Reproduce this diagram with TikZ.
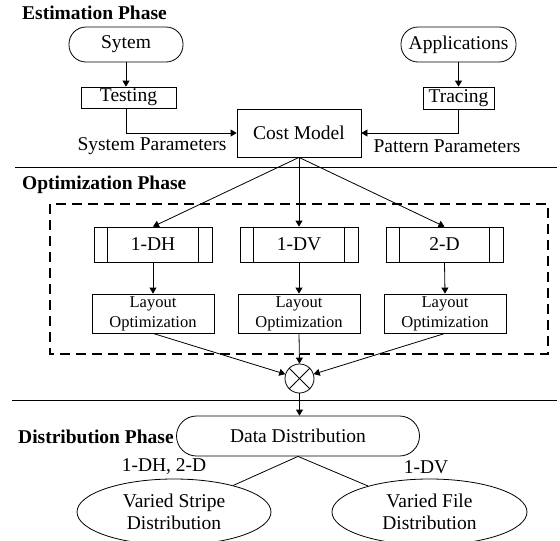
\documentclass[tikz,border=0pt]{standalone}
\usepackage{fontspec}
\setmainfont{Liberation Serif}
\usetikzlibrary{arrows.meta,shapes.geometric}
\begin{document}
\begin{tikzpicture}[x=1pt,y=-1pt,
  every node/.style={font=\fontsize{19.5}{22}\selectfont, inner sep=0pt},
  line/.style={line width=0.8pt},
  arr/.style={line width=0.8pt,-{Triangle[length=6pt,width=7pt]}},
  rbox/.style={draw,line width=0.8pt,rounded corners=17pt},
  sbox/.style={draw,line width=0.8pt},
  lobox/.style={draw,line width=0.8pt,minimum width=122pt,minimum height=39pt,align=center,font=\fontsize{16.5}{20}\selectfont},
  algbox/.style={draw,line width=0.8pt,minimum height=35pt},
  ell/.style={draw,line width=0.8pt,ellipse,minimum width=194pt,minimum height=66pt,align=center,font=\fontsize{19.5}{21.5}\selectfont},
  phase/.style={anchor=west,font=\fontsize{19.5}{22}\selectfont\bfseries},
  lbl/.style={}
]
\useasboundingbox (0,0) rectangle (560,541);

% Estimation phase
\node[phase] (est) at (22,13) {Estimation Phase};
\node[rbox,minimum width=114pt,minimum height=35pt] (sys) at (126,44.5) {Sytem};
\node[sbox,minimum width=95pt,minimum height=21pt] (test) at (128.5,97.5) {Testing};
\node[rbox,minimum width=115pt,minimum height=35pt] (app) at (458.5,44.5) {Applications};
\node[sbox,minimum width=71pt,minimum height=22pt] (trace) at (458.5,98) {Tracing};
\node[sbox,minimum width=124pt,minimum height=48pt] (cost) at (299,133) {Cost Model};
\node[lbl] (sp) at (152,146) {System Parameters};
\node[lbl] (pp) at (447,146) {Pattern Parameters};

\draw[arr] (sys.south) -- (sys.south |- test.north);
\draw[arr] (sys.south |- test.south) |- (cost.west);
\draw[arr] (app.south) -- (trace.north);
\draw[arr] (trace.south) |- (cost.east);

\coordinate (l1a) at (15,167);
\coordinate (l1b) at (557,167);
\draw[line] (l1a) -- (l1b);

% Optimization phase
\node[phase] (opt) at (22,185) {Optimization Phase};
\draw[line width=1.2pt,dash pattern=on 10pt off 6pt] (50,204) rectangle (548,354);

\node[algbox,minimum width=118pt] (dh) at (153,244.5) {1-DH};
\node[algbox,minimum width=118pt] (dv) at (299,244.5) {1-DV};
\node[algbox,minimum width=117pt] (td) at (444.5,244.5) {2-D};
\foreach \n in {dh,dv,td}{
  \draw[line] ([xshift=14pt]\n.north west) -- ([xshift=14pt]\n.south west);
  \draw[line] ([xshift=-14pt]\n.north east) -- ([xshift=-14pt]\n.south east);
}
\node[lobox] (lo1) at (153,313.5) {Layout\\Optimization};
\node[lobox] (lo2) at (299,313.5) {Layout\\Optimization};
\node[lobox] (lo3) at (445,313.5) {Layout\\Optimization};

\draw[arr] (cost.south) -- (dh.north);
\draw[arr] (cost.south) -- (dv.north);
\draw[arr] (cost.south) -- (td.north);
\draw[arr] (dh.south) -- (lo1.north);
\draw[arr] (dv.south) -- (lo2.north);
\draw[arr] (td.south) -- (lo3.north);

\node[draw,line width=0.8pt,circle,minimum size=29pt] (circ) at (299.5,378.5) {};
\draw[line] (circ.north west) -- (circ.south east);
\draw[line] (circ.north east) -- (circ.south west);
\draw[arr] (lo1.south) -- (circ);
\draw[arr] (lo2.south) -- (circ.north);
\draw[arr] (lo3.south) -- (circ);

\coordinate (l2a) at (12,400);
\coordinate (l2b) at (557,400);
\draw[line] (l2a) -- (l2b);

% Distribution phase
\node[rbox,rounded corners=20pt,minimum width=243pt,minimum height=40pt] (dd) at (298,436) {Data Distribution};
\node[phase] (dist) at (18,437) {Distribution Phase};
\draw[arr] (circ.south) -- (circ.south |- dd.north);

\node[ell] (e1) at (174,512) {Varied Stripe\\Distribution};
\node[ell,minimum width=195pt] (e2) at (429.5,512) {Varied File\\Distribution};
\node[lbl] (lab1) at (164,467) {1-DH, 2-D};
\node[lbl] (lab2) at (426,467) {1-DV};
\draw[line] (dd.south) -- (e1);
\draw[line] (dd.south) -- (e2);
\end{tikzpicture}
\end{document}
